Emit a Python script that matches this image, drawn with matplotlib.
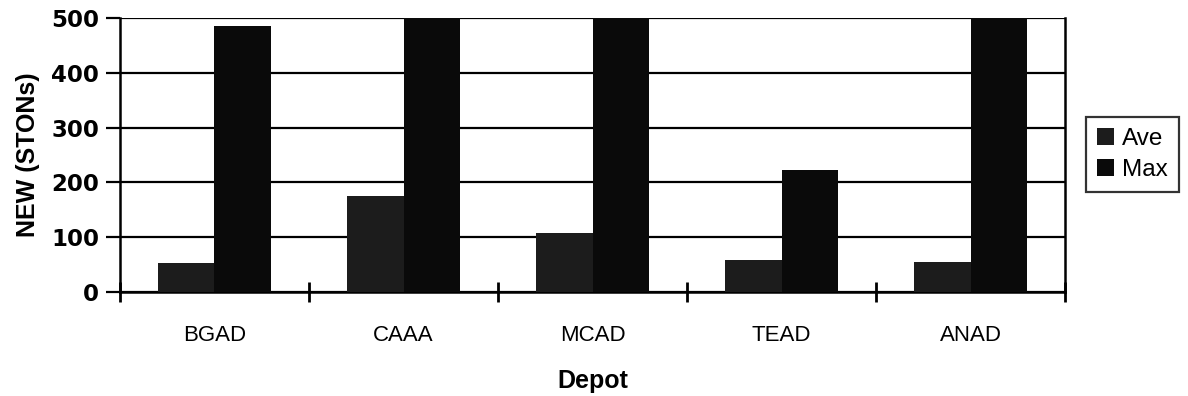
import matplotlib
matplotlib.use("Agg")
import matplotlib.pyplot as plt
import numpy as np

depots = ["BGAD", "CAAA", "MCAD", "TEAD", "ANAD"]
ave = [53, 175, 108, 58, 55]
mx = [486, 500, 500, 222, 500]
yticks = [0, 100, 200, 300, 400, 500]

plt.rcParams['font.family'] = ['Liberation Sans', 'DejaVu Sans']

fig = plt.figure(figsize=(11.88, 3.96), dpi=100)
ax = fig.add_axes([0.101, 0.2626, 0.7955, 0.692])

x = np.arange(len(depots))
w = 0.3
b1 = ax.bar(x - w/2, ave, width=w, color='#1c1c1c', label='Ave', zorder=3)
b2 = ax.bar(x + w/2, mx, width=w, color='#0a0a0a', label='Max', zorder=3)

ax.set_xlim(-0.5, len(depots) - 0.5)
ax.set_ylim(0, 500)
ax.set_yticks(yticks)
ax.set_yticklabels([str(v) for v in yticks], fontsize=16.5, fontweight='bold',
                   family=['DejaVu Sans'])
ax.yaxis.grid(True, color='black', linewidth=1.6, zorder=1)
ax.set_axisbelow(True)

ax.set_xticks(x)
ax.set_xticklabels(depots, fontsize=16)
ax.set_xticks(np.arange(-0.5, len(depots)), minor=True)
ax.tick_params(axis='x', which='major', length=0, pad=24)
ax.tick_params(axis='x', which='minor', length=14, width=2, direction='inout')
ax.tick_params(axis='y', length=10, width=1.6, direction='out', pad=5)

for s in ['left', 'right', 'bottom']:
    ax.spines[s].set_linewidth(1.8)
ax.spines['top'].set_visible(False)

ax.set_ylabel('NEW (STONs)', fontsize=18, fontweight='bold', labelpad=8)
ax.set_xlabel('Depot', fontsize=18, fontweight='bold', labelpad=16)

leg = fig.legend(handles=[b1, b2], labels=['Ave', 'Max'], loc='center left',
                 bbox_to_anchor=(0.914, 0.61), fontsize=17.5, frameon=True,
                 fancybox=False, edgecolor='black', handlelength=0.7,
                 handleheight=0.7, handletextpad=0.35, borderpad=0.45,
                 labelspacing=0.4, borderaxespad=0)
leg.get_frame().set_linewidth(1.6)

fig.savefig('out.png', dpi=100)
